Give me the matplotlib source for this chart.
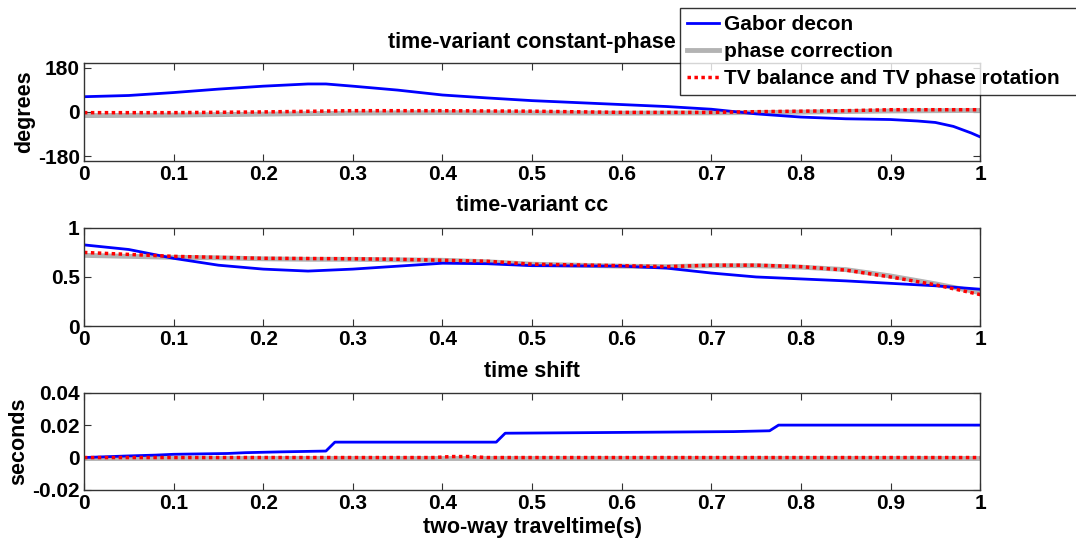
import matplotlib
matplotlib.use('Agg')
import matplotlib.pyplot as plt

# top panel: time-variant constant phase (degrees)
phase_t = [0, 0.05, 0.1, 0.15, 0.2, 0.25, 0.27, 0.3, 0.35, 0.4, 0.45, 0.5,
           0.55, 0.6, 0.65, 0.7, 0.75, 0.8, 0.85, 0.9, 0.93, 0.95, 0.97,
           0.99, 1.0]
phase_gabor = [62, 67, 79, 93, 105, 114, 114, 105, 89, 69, 57, 46,
               38, 30, 22, 11, -8, -21, -28, -31, -37, -43, -59, -86, -102]
phase_corr_t = [0, 0.1, 0.2, 0.3, 0.4, 0.5, 0.6, 0.7, 0.8, 0.9, 1.0]
phase_corr = [-15, -13, -9, -5, -3, -4, -5, -4, -1, 4, 6]
phase_tv_t = [0, 0.1, 0.2, 0.3, 0.4, 0.5, 0.6, 0.7, 0.75, 0.85, 0.9, 1.0]
phase_tv = [-3, -3, 0, 5, 5, 3, -2, -2, 1, 5, 9, 9]

# middle panel: time-variant cc
cc_t = [0, 0.05, 0.1, 0.15, 0.2, 0.25, 0.3, 0.35, 0.4, 0.45, 0.5, 0.6,
        0.65, 0.7, 0.75, 0.8, 0.85, 0.9, 0.95, 1.0]
cc_gabor = [0.827, 0.78, 0.69, 0.62, 0.58, 0.56, 0.58, 0.61, 0.64, 0.635,
            0.615, 0.61, 0.59, 0.54, 0.50, 0.48, 0.46, 0.435, 0.41, 0.375]
cc_corr = [0.72, 0.71, 0.70, 0.695, 0.685, 0.68, 0.68, 0.675, 0.67, 0.655,
           0.63, 0.61, 0.605, 0.615, 0.615, 0.60, 0.575, 0.51, 0.43, 0.34]
cc_tv = [0.75, 0.73, 0.71, 0.70, 0.69, 0.688, 0.685, 0.68, 0.67, 0.66,
         0.63, 0.615, 0.605, 0.62, 0.62, 0.605, 0.57, 0.50, 0.42, 0.32]

# bottom panel: time shift (seconds)
shift_gabor_t = [0, 0.025, 0.05, 0.08, 0.1, 0.16, 0.18, 0.22, 0.27, 0.28,
                 0.46, 0.47, 0.6, 0.725, 0.765, 0.775, 1.0]
shift_gabor = [0, 0.0005, 0.001, 0.0015, 0.002, 0.0025, 0.003, 0.0035,
               0.004, 0.0095, 0.0095, 0.015, 0.0155, 0.016, 0.0165,
               0.02, 0.02]
shift_corr_t = [0, 1.0]
shift_corr = [0, 0]
shift_tv_t = [0, 0.39, 0.41, 0.43, 0.45, 1.0]
shift_tv = [0, 0, 0.0006, 0.0006, 0, 0]

labels = ['Gabor decon', 'phase correction', 'TV balance and TV phase rotation']

FS = 15
FS_TITLE = 15.5
plt.rcParams['font.family'] = ['Liberation Sans', 'DejaVu Sans']
plt.rcParams['font.weight'] = 'bold'
plt.rcParams['font.size'] = FS


def style_axes(ax, ylim, yticks, ytl):
    ax.set_xlim(0, 1)
    ax.set_ylim(*ylim)
    ax.set_xticks([0, 0.1, 0.2, 0.3, 0.4, 0.5, 0.6, 0.7, 0.8, 0.9, 1])
    ax.set_xticklabels(['0', '0.1', '0.2', '0.3', '0.4', '0.5', '0.6',
                        '0.7', '0.8', '0.9', '1'])
    ax.set_yticks(yticks)
    ax.set_yticklabels(ytl)
    ax.tick_params(direction='in', top=True, right=True, length=5,
                   color='#333333', labelsize=FS, pad=3)
    for s in ax.spines.values():
        s.set_color('#333333')
        s.set_linewidth(1.0)


def draw(ax, t1, y1, t2, y2, t3, y3):
    h2, = ax.plot(t2, y2, color='#b3b3b3', lw=3.5)
    h1, = ax.plot(t1, y1, color='#0000ff', lw=2.0)
    h3, = ax.plot(t3, y3, color='#ff0000', lw=2.5, linestyle=(0, (1, 1)))
    return h1, h2, h3


def main():
    fig = plt.figure(figsize=(10.76, 5.42), dpi=100)
    left, width = 0.078, 0.833
    ax1 = fig.add_axes([left, 0.703, width, 0.181])
    ax2 = fig.add_axes([left, 0.3985, width, 0.181])
    ax3 = fig.add_axes([left, 0.096, width, 0.1795])

    handles = draw(ax1, phase_t, phase_gabor, phase_corr_t, phase_corr,
                   phase_tv_t, phase_tv)
    style_axes(ax1, (-200, 200), [-180, 0, 180], ['-180', '0', '180'])
    ax1.set_title('time-variant constant-phase', fontsize=FS_TITLE,
                  fontweight='bold', pad=11)
    ax1.set_ylabel('degrees', fontsize=FS_TITLE, fontweight='bold',
                   labelpad=2)

    draw(ax2, cc_t, cc_gabor, cc_t, cc_corr, cc_t, cc_tv)
    style_axes(ax2, (0, 1), [0, 0.5, 1], ['0', '0.5', '1'])
    ax2.set_title('time-variant cc', fontsize=FS_TITLE, fontweight='bold',
                  pad=12)

    draw(ax3, shift_gabor_t, shift_gabor, shift_corr_t, shift_corr,
         shift_tv_t, shift_tv)
    style_axes(ax3, (-0.02, 0.04), [-0.02, 0, 0.02, 0.04],
               ['-0.02', '0', '0.02', '0.04'])
    ax3.set_title('time shift', fontsize=FS_TITLE, fontweight='bold', pad=11)
    ax3.set_ylabel('seconds', fontsize=FS_TITLE, fontweight='bold',
                   labelpad=2)
    ax3.set_xlabel('two-way traveltime(s)', fontsize=FS_TITLE,
                   fontweight='bold', labelpad=3)

    # legend frame runs off the right edge, as in the original figure
    y_top = 1 - 8 / 542
    leg = fig.legend(handles, labels, loc='upper left',
                     bbox_to_anchor=(680 / 1076, y_top - 0.3, 0.4, 0.3),
                     mode='expand', fontsize=FS, frameon=True,
                     fancybox=False, handlelength=1.5, handletextpad=0.25,
                     labelspacing=0.38, borderpad=0.35, borderaxespad=0)
    leg.get_frame().set_edgecolor('black')
    leg.get_frame().set_linewidth(1.0)
    leg.set_zorder(10)

    fig.savefig('out.png', dpi=100)
    plt.close(fig)


if __name__ == '__main__':
    main()
